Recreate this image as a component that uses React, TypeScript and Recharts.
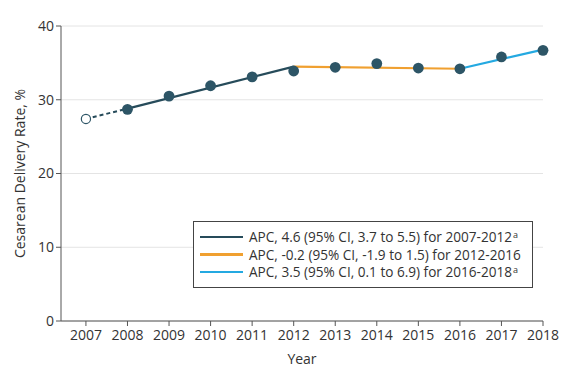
import React from "react";
import {
  ComposedChart,
  Line,
  XAxis,
  YAxis,
  CartesianGrid,
} from "recharts";

const years = [2007, 2008, 2009, 2010, 2011, 2012, 2013, 2014, 2015, 2016, 2017, 2018];
const observed = [27.4, 28.7, 30.5, 31.9, 33.1, 33.9, 34.4, 34.9, 34.3, 34.2, 35.8, 36.7];

// fitted joinpoint segments (null = not part of the segment)
const dashedFit = [27.4, 28.8, null, null, null, null, null, null, null, null, null, null];
const earlyFit = [null, 28.8, null, null, null, 34.5, null, null, null, null, null, null];
const midFit = [null, null, null, null, null, 34.5, null, null, null, 34.2, null, null];
const lateFit = [null, null, null, null, null, null, null, null, null, 34.2, null, 36.8];

const yTicks = [0, 10, 20, 30, 40];

const legendItems = [
  { color: "#264b5a", text: "APC, 4.6 (95% CI, 3.7 to 5.5) for 2007-2012", sup: "a" },
  { color: "#f0a030", text: "APC, -0.2 (95% CI, -1.9 to 1.5) for 2012-2016", sup: "" },
  { color: "#24a9e1", text: "APC, 3.5 (95% CI, 0.1 to 6.9) for 2016-2018", sup: "a" },
];

const data = years.map((year, i) => ({
  year,
  rate: observed[i],
  dash: dashedFit[i],
  early: earlyFit[i],
  mid: midFit[i],
  late: lateFit[i],
}));

const FONT = "'Open Sans', sans-serif";
const TEXT = "#333";

function RateDot(props: any) {
  const { cx, cy, index } = props;
  if (cx == null || cy == null) return null;
  if (index === 0) {
    return <circle cx={cx} cy={cy} r={4.6} fill="#fff" stroke="#2d5566" strokeWidth={1.2} />;
  }
  return <circle cx={cx} cy={cy} r={5.4} fill="#2d5566" stroke="none" />;
}

function LegendBox() {
  return (
    <div
      style={{
        position: "absolute",
        left: 193,
        top: 221,
        width: 340,
        height: 67,
        boxSizing: "border-box",
        border: "1px solid #444",
        background: "#fff",
        padding: "6px 0 0 6px",
        fontFamily: FONT,
        fontSize: 13.6,
        color: TEXT,
        lineHeight: "17.5px",
        whiteSpace: "nowrap",
      }}
    >
      {legendItems.map((it) => (
        <div key={it.text} style={{ display: "flex", alignItems: "center", height: 17.5 }}>
          <span
            style={{
              display: "inline-block",
              width: 43,
              height: 2.5,
              background: it.color,
              marginRight: 6,
            }}
          />
          <span>{it.text}</span>
          {it.sup && (
            <span style={{ fontSize: 9, lineHeight: "9px", marginLeft: 1, alignSelf: "flex-start", marginTop: 2 }}>
              {it.sup}
            </span>
          )}
        </div>
      ))}
    </div>
  );
}

export default function App() {
  return (
    <div style={{ position: "absolute", left: 0, top: 0, width: 577, height: 371, background: "#fff" }}>
      <ComposedChart
        width={577}
        height={371}
        data={data}
        margin={{ top: 26, right: 34, bottom: 0, left: 0 }}
      >
        <CartesianGrid vertical={false} stroke="#e4e4e4" />
        <XAxis
          dataKey="year"
          type="number"
          domain={[2006.4, 2018]}
          ticks={years}
          interval={0}
          height={50}
          tick={{ fontSize: 14, fill: TEXT, fontFamily: FONT }}
          tickSize={5}
          tickMargin={4}
          axisLine={{ stroke: "#555" }}
          tickLine={{ stroke: "#555" }}
          label={{ value: "Year", position: "insideBottom", offset: 7, fontSize: 14, fill: TEXT, fontFamily: FONT }}
        />
        <YAxis
          type="number"
          domain={[0, 40]}
          ticks={yTicks}
          width={61}
          tick={{ fontSize: 14, fill: TEXT, fontFamily: FONT }}
          tickSize={5}
          axisLine={{ stroke: "#555" }}
          tickLine={{ stroke: "#555" }}
          label={{
            value: "Cesarean Delivery Rate, %",
            angle: -90,
            position: "insideLeft",
            offset: 20,
            style: { textAnchor: "middle" },
            fontSize: 14,
            fill: TEXT,
            fontFamily: FONT,
          }}
        />
        <Line dataKey="dash" stroke="#264b5a" strokeWidth={2} strokeDasharray="4 3" dot={false} connectNulls isAnimationActive={false} />
        <Line dataKey="early" stroke="#264b5a" strokeWidth={2.2} dot={false} connectNulls isAnimationActive={false} />
        <Line dataKey="mid" stroke="#f0a030" strokeWidth={2.2} dot={false} connectNulls isAnimationActive={false} />
        <Line dataKey="late" stroke="#24a9e1" strokeWidth={2.2} dot={false} connectNulls isAnimationActive={false} />
        <Line dataKey="rate" stroke="none" dot={<RateDot />} activeDot={false} isAnimationActive={false} />
      </ComposedChart>
      <LegendBox />
    </div>
  );
}
